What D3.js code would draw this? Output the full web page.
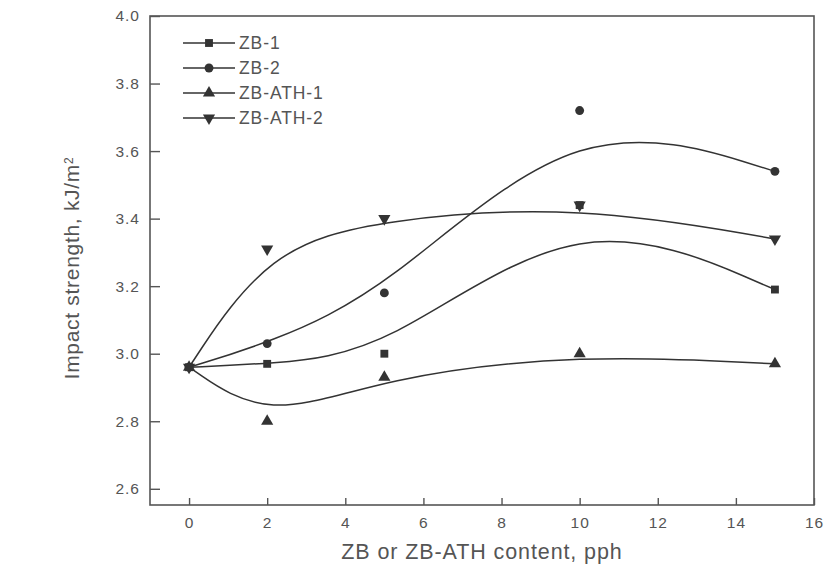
<!DOCTYPE html>
<html>
<head>
<meta charset="utf-8">
<script src="https://cdn.jsdelivr.net/npm/d3@7"></script>
<style>
  html, body { margin: 0; padding: 0; background: #fff; }
  svg { display: block; }
  text { font-family: "Liberation Sans", Arial, Helvetica, sans-serif; fill: #555; }
</style>
</head>
<body>
<svg id="chart" width="826" height="569"></svg>
<script>
// Filler content (pph) and impact strength (kJ/m²)
const content = [0, 2, 5, 10, 15];
const zb1    = [2.96, 2.97, 3.00, 3.44, 3.19];
const zb2    = [2.96, 3.03, 3.18, 3.72, 3.54];
const zbath1 = [2.96, 2.80, 2.93, 3.00, 2.97];
const zbath2 = [2.96, 3.31, 3.40, 3.44, 3.34];

const seriesNames = ["ZB-1", "ZB-2", "ZB-ATH-1", "ZB-ATH-2"];
const seriesValues = [zb1, zb2, zbath1, zbath2];
const seriesSymbols = [d3.symbolSquare, d3.symbolCircle, d3.symbolTriangle, d3.symbolTriangle];
const symbolRotations = [0, 0, 0, 180];

const xTicks = [0, 2, 4, 6, 8, 10, 12, 14, 16];
const yTicks = [2.6, 2.8, 3.0, 3.2, 3.4, 3.6, 3.8, 4.0];

const xTitle = "ZB or ZB-ATH content, pph";

const ink = "#333";
const frameInk = "#555";

const svg = d3.select("#chart");
const plot = { left: 150, top: 16, right: 814, bottom: 505 };

const x = d3.scaleLinear().domain([-1, 16]).range([plot.left, plot.right]);
const y = d3.scaleLinear().domain([2.552, 4.0]).range([plot.bottom, plot.top]);

// Axes with inward ticks
const xAxis = svg.append("g")
  .attr("transform", `translate(0,${plot.bottom})`)
  .call(d3.axisBottom(x).tickValues(xTicks).tickFormat(d3.format("d"))
    .tickSizeInner(-7).tickSizeOuter(0).tickPadding(12));
const yAxis = svg.append("g")
  .attr("transform", `translate(${plot.left},0)`)
  .call(d3.axisLeft(y).tickValues(yTicks).tickFormat(d3.format(".1f"))
    .tickSizeInner(-10).tickSizeOuter(0).tickPadding(10));

[xAxis, yAxis].forEach(g => {
  g.select(".domain").remove();
  g.selectAll(".tick line").attr("stroke", frameInk).attr("stroke-width", 1.4);
  g.selectAll(".tick text").attr("fill", "#666").style("font-size", "15.5px")
    .style("letter-spacing", "1px").style("font-family", "'Liberation Sans', Arial, sans-serif");
});

// Frame
svg.append("rect")
  .attr("x", plot.left).attr("y", plot.top)
  .attr("width", plot.right - plot.left).attr("height", plot.bottom - plot.top)
  .attr("fill", "none").attr("stroke", frameInk).attr("stroke-width", 1.6);

// B-spline curves through the measured values
const line = d3.line()
  .x((d, i) => x(content[i]))
  .y(d => y(d))
  .curve(d3.curveBasis);

const curves = svg.append("g");
seriesValues.forEach(vals => {
  curves.append("path")
    .attr("d", line(vals))
    .attr("fill", "none")
    .attr("stroke", ink)
    .attr("stroke-width", 1.5);
});

// Markers (drawn last-to-first so the squares sit on top)
const markerSizes = [62, 62, 64, 64];
const markers = svg.append("g");
d3.range(seriesValues.length).reverse().forEach(s => {
  markers.selectAll(null)
    .data(seriesValues[s])
    .join("path")
    .attr("d", d3.symbol().type(seriesSymbols[s]).size(markerSizes[s]))
    .attr("transform", (d, i) => `translate(${x(content[i])},${y(d)}) rotate(${symbolRotations[s]})`)
    .attr("fill", ink);
});

// Legend
const legend = svg.append("g").attr("transform", "translate(183,43)");
seriesNames.forEach((name, s) => {
  const row = legend.append("g").attr("transform", `translate(0,${s * 25})`);
  row.append("line").attr("x1", 0).attr("x2", 52).attr("y1", 0).attr("y2", 0)
    .attr("stroke", ink).attr("stroke-width", 1.5);
  row.append("path")
    .attr("d", d3.symbol().type(seriesSymbols[s]).size(markerSizes[s]))
    .attr("transform", `translate(26,0) rotate(${symbolRotations[s]})`)
    .attr("fill", ink);
  row.append("text").attr("x", 56).attr("y", 0).attr("dy", "0.36em")
    .style("font-size", "17.5px").style("letter-spacing", "0.9px")
    .text(name);
});

// Axis titles
svg.append("text")
  .attr("x", (plot.left + plot.right) / 2).attr("y", 559)
  .attr("text-anchor", "middle")
  .style("font-size", "21.5px").style("letter-spacing", "0.9px")
  .text(xTitle);

const yTitle = svg.append("text")
  .attr("transform", "translate(79,268) rotate(-90)")
  .attr("text-anchor", "middle")
  .style("font-size", "21px").style("letter-spacing", "0.7px");
yTitle.append("tspan").text("Impact strength, kJ/m");
yTitle.append("tspan").attr("dy", "-0.5em").style("font-size", "12px").text("2");
</script>
</body>
</html>
